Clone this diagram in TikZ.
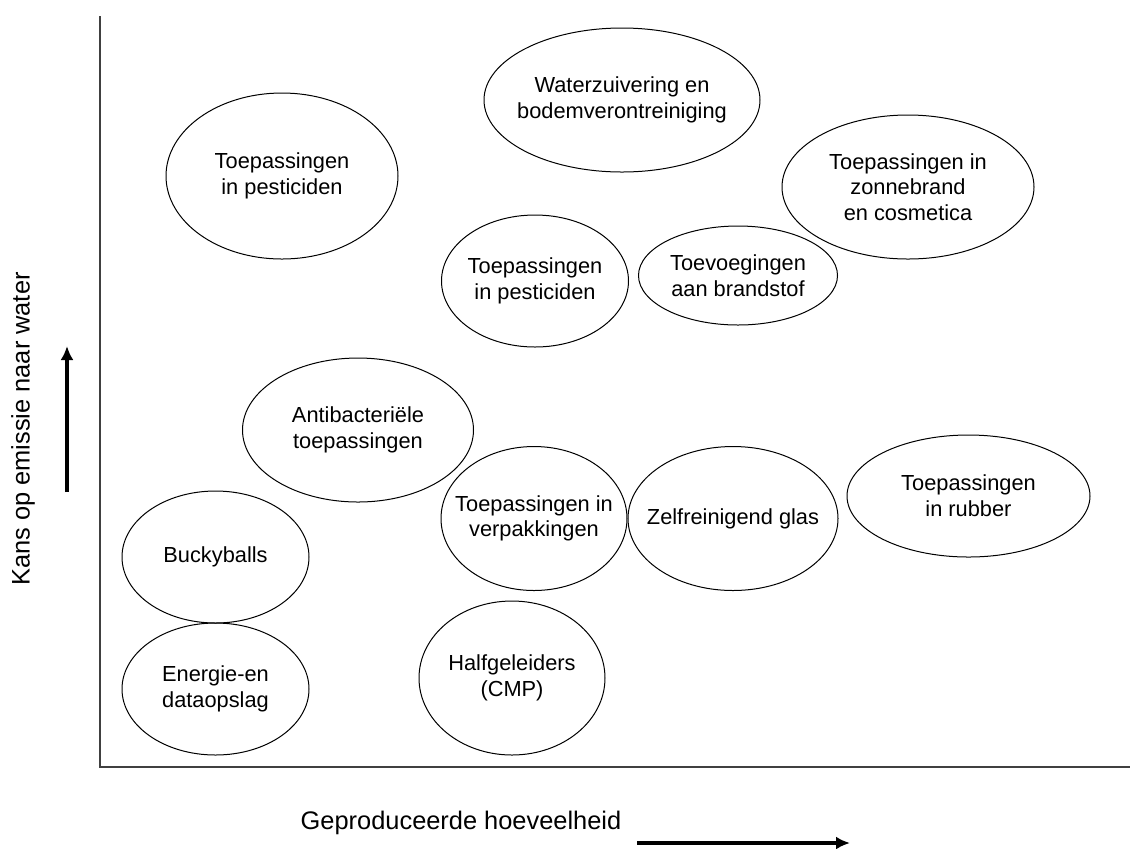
\documentclass[tikz,border=0pt]{standalone}
\usepackage{fontspec}
\setmainfont{Liberation Sans}
\usetikzlibrary{arrows.meta}
\definecolor{AxisGrey}{HTML}{404040}
\definecolor{LineBlack}{HTML}{000000}

\begin{document}
\begin{tikzpicture}[x=0.5pt,y=-0.5pt,
    blob/.style={inner sep=0pt,align=center,font=\fontsize{10.9}{12.85}\selectfont},
    rim/.style={draw=LineBlack,line width=0.5pt},
    axislabel/.style={font=\fontsize{12.7}{15}\selectfont},
    trend/.style={line width=1.6pt,-{Latex[length=7pt,width=6.5pt]}}]
        \useasboundingbox (0,0) rectangle (1130,848);
        % axes
        \coordinate (ytop) at (100,16);
        \coordinate (origin) at (100,767);
        \coordinate (xend) at (1130,767);
        \draw[AxisGrey, line width=1pt] (ytop) -- (origin) -- (xend);
        % applications
        \node[blob] (water) at (622,100) {Waterzuivering en\\bodemverontreiniging};
        \node[blob] (pestA) at (282,176) {Toepassingen\\in pesticiden};
        \node[blob] (zonne) at (908,187) {Toepassingen in\\zonnebrand\\en cosmetica};
        \node[blob] (pestB) at (535,281) {Toepassingen\\in pesticiden};
        \node[blob] (brandstof) at (738,275.5) {Toevoegingen\\aan brandstof};
        \node[blob] (antibac) at (358,430) {Antibacteriële\\toepassingen};
        \node[blob] (verpak) at (534,518.5) {Toepassingen in\\verpakkingen};
        \node[blob] (glas) at (733,518.5) {Zelfreinigend glas};
        \node[blob] (rubber) at (968.5,496) {Toepassingen\\in rubber};
        \node[blob] (bucky) at (215.5,557) {Buckyballs};
        \node[blob] (energie) at (215.5,689) {Energie-en\\dataopslag};
        \node[blob] (halfgel) at (512,678) {Halfgeleiders\\(CMP)};
        % outlines
        \draw[rim] (water.center) ellipse [x radius=138, y radius=72];
        \draw[rim] (pestA.center) ellipse [x radius=116, y radius=83];
        \draw[rim] (zonne.center) ellipse [x radius=126, y radius=72];
        \draw[rim] (pestB.center) ellipse [x radius=93.5, y radius=66];
        \draw[rim] (brandstof.center) ellipse [x radius=99.5, y radius=49.5];
        \draw[rim] (antibac.center) ellipse [x radius=115.5, y radius=72];
        \draw[rim] (verpak.center) ellipse [x radius=93, y radius=72];
        \draw[rim] (glas.center) ellipse [x radius=105, y radius=72];
        \draw[rim] (rubber.center) ellipse [x radius=121.5, y radius=61];
        \draw[rim] (bucky.center) ellipse [x radius=93.5, y radius=66];
        \draw[rim] (energie.center) ellipse [x radius=93.5, y radius=66];
        \draw[rim] (halfgel.center) ellipse [x radius=93, y radius=77];
        % axis titles
        \node[axislabel, rotate=90] (ylabel) at (23,429) {Kans op emissie naar water};
        \node[axislabel] (xlabel) at (461,823) {Geproduceerde hoeveelheid};
        \coordinate (yfrom) at (67,492);
        \coordinate (yto) at (67,346);
        \draw[trend] (yfrom) -- (yto);
        \coordinate (xfrom) at (637,843);
        \coordinate (xto) at (850,843);
        \draw[trend] (xfrom) -- (xto);
      \end{tikzpicture}
\end{document}
